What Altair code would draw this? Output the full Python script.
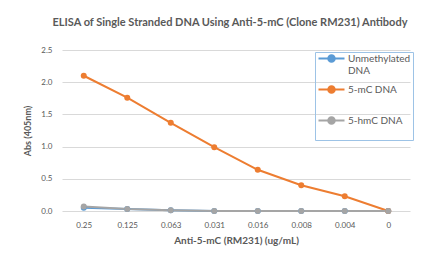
import altair as alt
import pandas as pd

concentrations = ["0.25", "0.125", "0.063", "0.031", "0.016", "0.008", "0.004", "0"]
series_names = ["Unmethylated DNA", "5-mC DNA", "5-hmC DNA"]
unmethylated = [0.05, 0.03, 0.01, 0.0, 0.0, 0.0, 0.0, 0.0]
mc5 = [2.10, 1.76, 1.37, 0.99, 0.64, 0.40, 0.23, 0.0]
hmc5 = [0.07, 0.03, 0.01, 0.0, 0.0, 0.0, 0.0, 0.0]
colors = ["#5B9BD5", "#ED7D31", "#A5A5A5"]

rows = []
for name, vals in zip(series_names, [unmethylated, mc5, hmc5]):
    for i, (c, v) in enumerate(zip(concentrations, vals)):
        rows.append({"conc": c, "abs": v, "series": name, "ord": i})
df = pd.DataFrame(rows)

txt = "#595959"
font = "Lato"

# legend symbol: line with a dot, drawn wider than its layout box
sym = ("M-2,-0.45L-0.5,-0.45M0.5,-0.45L2,-0.45"
       "M-0.5,-0.45A0.5,0.5 0 1,1 0.5,-0.45A0.5,0.5 0 1,1 -0.5,-0.45Z")

chart = alt.Chart(df).mark_line(
    point=alt.OverlayMarkDef(size=36, filled=True, opacity=1), strokeWidth=2
).encode(
    x=alt.X("conc:N", sort=concentrations,
            scale=alt.Scale(type="point", padding=0.5),
            axis=alt.Axis(title="Anti-5-mC (RM231) (ug/mL)", labelAngle=0,
                          grid=False, ticks=False, domain=False,
                          labelPadding=10, labelFontSize=8, labelColor=txt,
                          titleFontSize=10, titleColor=txt, titleFontWeight="bold",
                          titlePadding=6, labelFont=font, titleFont=font)),
    y=alt.Y("abs:Q", scale=alt.Scale(domain=[0, 2.5], nice=False),
            axis=alt.Axis(title="Abs (405nm)", values=[0, 0.5, 1.0, 1.5, 2.0, 2.5],
                          format=".1f", grid=True, gridColor="#D9D9D9",
                          ticks=False, domain=False, labelPadding=10,
                          labelFontSize=8, labelColor=txt, titleFontSize=9,
                          titleColor=txt, titleFontWeight="bold", titlePadding=8,
                          labelFont=font, titleFont=font)),
    color=alt.Color("series:N", sort=series_names,
                    scale=alt.Scale(domain=series_names, range=colors),
                    legend=alt.Legend(title=None, orient="none", legendX=253, legendY=2,
                                      strokeColor="#9DC3E6", padding=2,
                                      symbolType=sym, symbolSize=169,
                                      symbolOffset=7, labelOffset=9,
                                      symbolStrokeWidth=2, labelFontSize=10,
                                      labelColor=txt, labelFont=font,
                                      labelBaseline="alphabetic",
                                      rowPadding=6, labelLimit=90,
                                      labelExpr="datum.label == 'Unmethylated DNA' ? ['Unmethylated', 'DNA'] : [datum.label, ' ']")),
    order=alt.Order("ord:Q"),
).properties(
    width=348, height=161,
    autosize=alt.AutoSizeParams(type="none"),
    padding={"left": 54, "top": 42, "right": 13, "bottom": 42},
    title=alt.TitleParams("ELISA of Single Stranded DNA Using Anti-5-mC (Clone RM231) Antibody",
                          fontSize=11, font=font, fontWeight="bold", color=txt,
                          offset=18, dx=-6),
    background="white",
).configure_view(stroke=None)

chart.save("out.html", embed_options={"renderer": "svg", "actions": False})
